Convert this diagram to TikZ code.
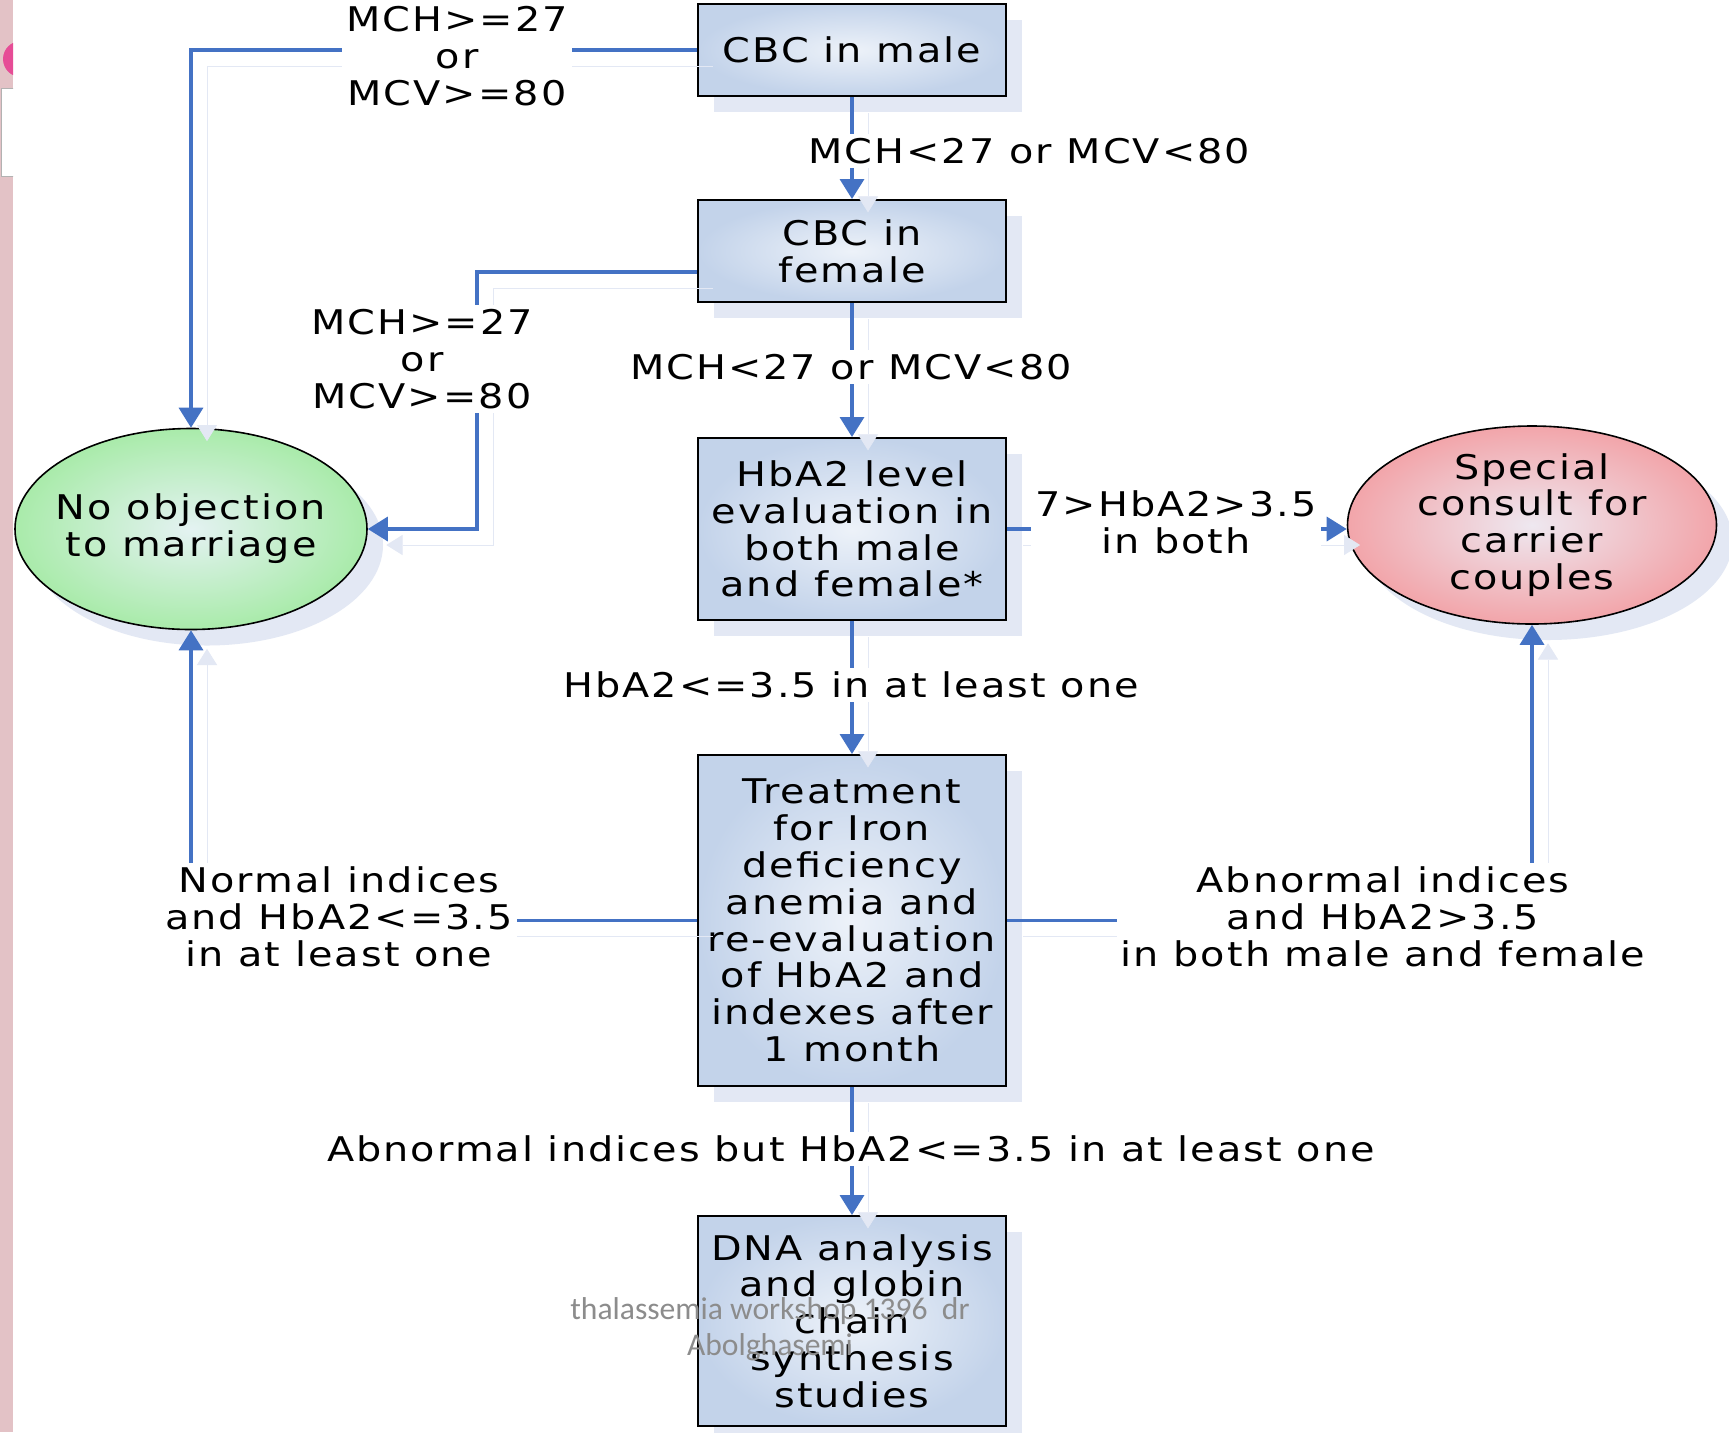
\documentclass[tikz,border=0pt]{standalone}
\usepackage{fontspec}
\setmainfont{DejaVu Sans}[FakeStretch=1.17, LetterSpace=6]
\newfontfamily\markfont{Carlito}
\usetikzlibrary{arrows.meta,shapes.geometric,shadows,positioning}

\definecolor{lineblue}{HTML}{4472C4}
\definecolor{shadeblue}{HTML}{E3E8F4}
\definecolor{boxedge}{HTML}{C3D3EA}
\definecolor{boxmid}{HTML}{EDF2F9}
\definecolor{greenedge}{HTML}{A9EBAA}
\definecolor{greenmid}{HTML}{E4F2F2}
\definecolor{pinkedge}{HTML}{F2A5AA}
\definecolor{pinkmid}{HTML}{EEE8F0}
\definecolor{slidepink}{HTML}{E3C2C6}
\definecolor{dotpink}{HTML}{E64C96}

\begin{document}
\begin{tikzpicture}
        [
            x=0.5pt, y=-0.5pt,
            font=\fontsize{17pt}{18.4pt}\selectfont,
            >={Triangle[length=10pt,width=12pt]},
            box/.style={rectangle, draw=black, line width=1pt, minimum width=154pt,
                inner sep=0pt, align=center, inner color=boxmid, outer color=boxedge,
                drop shadow={shadow xshift=8pt, shadow yshift=-8pt, fill=shadeblue, opacity=1}},
            goal/.style={ellipse, draw=black, line width=0.8pt, inner sep=0pt, align=center,
                drop shadow={shadow xshift=8pt, shadow yshift=-8pt, fill=shadeblue, opacity=1}},
            flow/.style={->, draw=lineblue, line width=1.7pt,
                preaction={draw=shadeblue, transform canvas={shift={(8pt,-8pt)}}}},
            cond/.style={fill=white, align=center, inner sep=2pt},
        ]
            \useasboundingbox (0,0) rectangle (1729,1432);
            \fill[white] (0,0) rectangle (1729,1432);

            % slide edge
            \fill[slidepink] (0,0) rectangle (13,1432);
            \begin{scope}
                \clip (0,0) rectangle (13,1432);
                \fill[dotpink] (21,59) circle[radius=18];
                \draw[gray!60, fill=white] (1,88) rectangle (20,176);
            \end{scope}

            \node[box, minimum height=46pt] (male) at (852,50) {CBC in male};
            \node[box, minimum height=51pt] (female) at (852,251) {CBC in\\female};
            \node[box, minimum height=91pt] (hba) at (852,529) {HbA2 level\\evaluation in\\both male\\and female*};
            \node[box, minimum height=165.5pt] (treat) at (852,920.5) {Treatment\\for Iron\\deficiency\\anemia and\\re-evaluation\\of HbA2 and\\indexes after\\1 month};
            \node[box, minimum height=105pt] (dna) at (852,1321) {DNA analysis\\and globin\\chain\\synthesis\\studies};

            \node[goal, minimum width=176pt, minimum height=100.5pt, inner xsep=-6pt, inner color=greenmid, outer color=greenedge] (noobj) at (191,529) {No objection\\to marriage};
            \node[goal, minimum width=184.5pt, minimum height=99pt, inner ysep=-2pt, inner color=pinkmid, outer color=pinkedge] (consult) at (1532,525) {Special\\consult for\\carrier\\couples};

            \coordinate (bend) at (477,529);

            \draw[flow] (male.west) -| (noobj.north);
            \draw[flow] (male.south) -- (female.north);
            \draw[flow] ([yshift=-10.5pt]female.west) -| (bend) -- (noobj.east);
            \draw[flow] (female.south) -- (hba.north);
            \draw[flow] (hba.east) -- (hba.east -| consult.west);
            \draw[flow] (hba.south) -- (treat.north);
            \draw[flow] (treat.west) -| (noobj.south);
            \draw[flow] (treat.east) -| (consult.south);
            \draw[flow] (treat.south) -- (dna.north);

            \node[cond] (c1) at (457,56) {MCH>=27\\or\\MCV>=80};
            \node[cond, anchor=west] (c2) at (804,151) {MCH<27 or MCV<80};
            \node[cond] (c3) at (422,359) {MCH>=27\\or\\MCV>=80};
            \node[cond] (c4) at (851,367) {MCH<27 or MCV<80};
            \node[cond] (c5) at (1176,522) {7>HbA2>3.5\\in both};
            \node[cond] (c6) at (851,685) {HbA2<=3.5 in at least one};
            \node[cond] (c7) at (339,917) {Normal indices\\and HbA2<=3.5\\in at least one};
            \node[cond] (c8) at (1383,917) {Abnormal indices\\and HbA2>3.5\\in both male and female};
            \node[cond] (c9) at (851,1149) {Abnormal indices but HbA2<=3.5 in at least one};

            \node[font=\markfont\fontsize{15.8pt}{18pt}\selectfont, text=black!45, align=center] (mark) at (770,1329) {thalassemia workshop 1396~~dr\\Abolghasemi};
        \end{tikzpicture}
\end{document}
